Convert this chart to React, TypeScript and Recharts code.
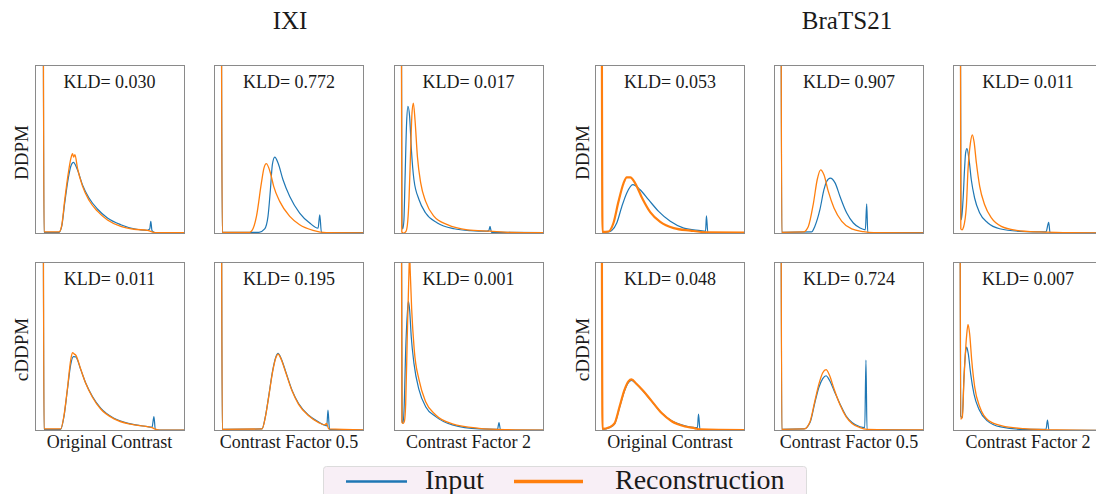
import { LineChart, Line, XAxis, YAxis } from "recharts";

type Pt = [number, number];

const DATASETS = ["IXI", "BraTS21"];
const MODELS = ["DDPM", "cDDPM"];
const CONTRASTS = ["Original Contrast", "Contrast Factor 0.5", "Contrast Factor 2"];
const KLD_IXI = [
  [0.03, 0.772, 0.017],
  [0.011, 0.195, 0.001],
];
const KLD_BRATS = [
  [0.053, 0.907, 0.011],
  [0.048, 0.724, 0.007],
];
const LEGEND = ["Input", "Reconstruction"];

// intensity histograms: [intensity, density] (density scaled to the panel's y range, bin 0 overflows)
const ixiDdpmOrigIn: Pt[] = [[0.055, 1.5], [0.06, 0.01], [0.16, 0.01], [0.178, 0.045], [0.198, 0.183], [0.222, 0.331], [0.24, 0.404], [0.256, 0.424], [0.283, 0.38], [0.316, 0.292], [0.36, 0.213], [0.416, 0.148], [0.483, 0.095], [0.572, 0.055], [0.66, 0.031], [0.75, 0.022], [0.765, 0.03], [0.772, 0.075], [0.78, 0.02], [0.8, 0.008], [1, 0.008]];
const ixiDdpmOrigRec: Pt[] = [[0.055, 1.5], [0.06, 0.012], [0.16, 0.012], [0.178, 0.05], [0.198, 0.2], [0.222, 0.36], [0.24, 0.45], [0.25, 0.475], [0.258, 0.455], [0.266, 0.47], [0.283, 0.39], [0.316, 0.285], [0.36, 0.2], [0.416, 0.135], [0.483, 0.083], [0.572, 0.045], [0.66, 0.028], [0.75, 0.022], [0.78, 0.012], [0.8, 0.008], [1, 0.008]];
const ixiDdpmHalfIn: Pt[] = [[0.049, 1.5], [0.055, 0.01], [0.3, 0.01], [0.338, 0.03], [0.36, 0.104], [0.376, 0.262], [0.389, 0.41], [0.405, 0.455], [0.427, 0.42], [0.46, 0.321], [0.505, 0.222], [0.571, 0.124], [0.638, 0.065], [0.694, 0.035], [0.705, 0.114], [0.716, 0.01], [1, 0.008]];
const ixiDdpmHalfRec: Pt[] = [[0.049, 1.5], [0.055, 0.01], [0.238, 0.01], [0.262, 0.035], [0.283, 0.104], [0.316, 0.302], [0.333, 0.39], [0.349, 0.416], [0.376, 0.361], [0.398, 0.282], [0.438, 0.193], [0.505, 0.104], [0.571, 0.055], [0.66, 0.022], [0.749, 0.008], [1, 0.006]];
const ixiDdpmDoubleIn: Pt[] = [[0.049, 1.5], [0.053, 0.06], [0.058, 0.03], [0.066, 0.08], [0.073, 0.302], [0.084, 0.657], [0.093, 0.755], [0.104, 0.696], [0.116, 0.499], [0.133, 0.321], [0.167, 0.203], [0.211, 0.124], [0.289, 0.065], [0.4, 0.031], [0.511, 0.02], [0.62, 0.017], [0.632, 0.02], [0.64, 0.045], [0.65, 0.01], [1, 0.008]];
const ixiDdpmDoubleRec: Pt[] = [[0.049, 1.5], [0.052, 0.012], [0.065, 0.005], [0.08, 0.015], [0.092, 0.08], [0.1, 0.203], [0.111, 0.499], [0.12, 0.716], [0.129, 0.775], [0.14, 0.676], [0.156, 0.459], [0.178, 0.302], [0.211, 0.193], [0.267, 0.104], [0.356, 0.055], [0.49, 0.025], [0.64, 0.017], [0.78, 0.01], [1, 0.008]];

const bratsDdpmOrigIn: Pt[] = [[0.045, 1.5], [0.05, 0.01], [0.09, 0.012], [0.111, 0.02], [0.145, 0.065], [0.179, 0.163], [0.212, 0.243], [0.252, 0.292], [0.301, 0.262], [0.357, 0.203], [0.424, 0.134], [0.502, 0.075], [0.592, 0.035], [0.703, 0.02], [0.737, 0.016], [0.743, 0.108], [0.752, 0.01], [1, 0.008]];
const bratsDdpmOrigRec: Pt[] = [[0.045, 1.5], [0.05, 0.012], [0.09, 0.015], [0.123, 0.065], [0.156, 0.19], [0.19, 0.3], [0.212, 0.335], [0.235, 0.335], [0.268, 0.3], [0.313, 0.215], [0.368, 0.13], [0.435, 0.072], [0.525, 0.035], [0.636, 0.02], [0.748, 0.01], [1, 0.008]];
const bratsDdpmHalfIn: Pt[] = [[0.047, 1.5], [0.052, 0.01], [0.25, 0.012], [0.272, 0.045], [0.306, 0.144], [0.333, 0.262], [0.351, 0.311], [0.375, 0.331], [0.408, 0.301], [0.44, 0.222], [0.485, 0.124], [0.529, 0.065], [0.574, 0.035], [0.609, 0.025], [0.618, 0.179], [0.625, 0.01], [1, 0.008]];
const bratsDdpmHalfRec: Pt[] = [[0.047, 1.5], [0.052, 0.01], [0.196, 0.012], [0.229, 0.045], [0.263, 0.183], [0.288, 0.321], [0.311, 0.38], [0.333, 0.35], [0.362, 0.252], [0.4, 0.154], [0.452, 0.075], [0.518, 0.03], [0.596, 0.014], [0.663, 0.008], [1, 0.006]];
const bratsDdpmDoubleIn: Pt[] = [[0.049, 1.5], [0.053, 0.1], [0.056, 0.085], [0.067, 0.203], [0.078, 0.4], [0.084, 0.479], [0.093, 0.505], [0.107, 0.44], [0.122, 0.321], [0.144, 0.213], [0.178, 0.124], [0.233, 0.065], [0.311, 0.031], [0.444, 0.016], [0.62, 0.012], [0.638, 0.069], [0.647, 0.007], [1, 0.006]];
const bratsDdpmDoubleRec: Pt[] = [[0.049, 1.5], [0.052, 0.03], [0.06, 0.025], [0.07, 0.04], [0.089, 0.163], [0.1, 0.38], [0.116, 0.538], [0.129, 0.587], [0.14, 0.548], [0.156, 0.42], [0.178, 0.282], [0.211, 0.173], [0.256, 0.095], [0.322, 0.045], [0.422, 0.022], [0.578, 0.012], [0.778, 0.008], [1, 0.006]];

const ixiCddpmOrigIn: Pt[] = [[0.055, 1.5], [0.06, 0.01], [0.171, 0.01], [0.193, 0.085], [0.216, 0.244], [0.238, 0.393], [0.256, 0.44], [0.271, 0.439], [0.305, 0.363], [0.338, 0.284], [0.383, 0.204], [0.438, 0.135], [0.527, 0.075], [0.638, 0.042], [0.749, 0.026], [0.78, 0.022], [0.793, 0.085], [0.802, 0.008], [0.83, 0.005], [1, 0.005]];
const ixiCddpmOrigRec: Pt[] = [[0.055, 1.5], [0.06, 0.012], [0.171, 0.012], [0.193, 0.09], [0.216, 0.25], [0.238, 0.42], [0.25, 0.464], [0.262, 0.455], [0.271, 0.45], [0.305, 0.365], [0.338, 0.282], [0.383, 0.2], [0.438, 0.13], [0.527, 0.072], [0.638, 0.04], [0.749, 0.026], [0.78, 0.02], [0.8, 0.012], [0.83, 0.005], [1, 0.005]];
const ixiCddpmHalfIn: Pt[] = [[0.05, 1.5], [0.055, 0.01], [0.32, 0.012], [0.342, 0.083], [0.364, 0.202], [0.391, 0.357], [0.413, 0.44], [0.427, 0.46], [0.449, 0.426], [0.476, 0.357], [0.52, 0.242], [0.564, 0.163], [0.631, 0.093], [0.698, 0.053], [0.738, 0.034], [0.752, 0.03], [0.76, 0.123], [0.77, 0.01], [1, 0.006]];
const ixiCddpmHalfRec: Pt[] = [[0.05, 1.5], [0.055, 0.01], [0.32, 0.012], [0.342, 0.08], [0.364, 0.198], [0.391, 0.352], [0.413, 0.435], [0.427, 0.455], [0.449, 0.422], [0.476, 0.352], [0.52, 0.238], [0.564, 0.158], [0.631, 0.09], [0.698, 0.05], [0.738, 0.036], [0.75, 0.045], [0.765, 0.012], [1, 0.006]];
const ixiCddpmDoubleIn: Pt[] = [[0.049, 1.5], [0.054, 0.06], [0.06, 0.045], [0.067, 0.124], [0.078, 0.48], [0.089, 0.698], [0.096, 0.767], [0.104, 0.718], [0.115, 0.558], [0.133, 0.4], [0.167, 0.243], [0.211, 0.144], [0.278, 0.085], [0.389, 0.036], [0.567, 0.012], [0.69, 0.01], [0.7, 0.05], [0.71, 0.006], [1, 0.005]];
const ixiCddpmDoubleRec: Pt[] = [[0.049, 1.5], [0.053, 0.05], [0.062, 0.045], [0.07, 0.06], [0.078, 0.163], [0.089, 0.578], [0.1, 0.95], [0.104, 1.05], [0.108, 0.95], [0.118, 0.718], [0.135, 0.48], [0.167, 0.302], [0.211, 0.173], [0.278, 0.095], [0.389, 0.042], [0.567, 0.016], [0.744, 0.008], [1, 0.005]];

const bratsCddpmOrigIn: Pt[] = [[0.045, 1.5], [0.05, 0.01], [0.096, 0.02], [0.13, 0.04], [0.164, 0.14], [0.197, 0.238], [0.224, 0.288], [0.243, 0.3], [0.276, 0.278], [0.321, 0.236], [0.377, 0.177], [0.444, 0.107], [0.511, 0.06], [0.6, 0.03], [0.667, 0.02], [0.683, 0.02], [0.69, 0.1], [0.7, 0.008], [1, 0.006]];
const bratsCddpmOrigRec: Pt[] = [[0.045, 1.5], [0.05, 0.012], [0.096, 0.022], [0.13, 0.045], [0.164, 0.145], [0.197, 0.245], [0.224, 0.295], [0.243, 0.305], [0.276, 0.28], [0.321, 0.238], [0.377, 0.178], [0.444, 0.106], [0.511, 0.058], [0.6, 0.027], [0.667, 0.016], [0.7, 0.01], [1, 0.006]];
const bratsCddpmHalfIn: Pt[] = [[0.047, 1.5], [0.052, 0.01], [0.2, 0.012], [0.24, 0.05], [0.273, 0.17], [0.3, 0.26], [0.325, 0.31], [0.347, 0.327], [0.37, 0.3], [0.4, 0.24], [0.44, 0.16], [0.48, 0.09], [0.52, 0.05], [0.573, 0.025], [0.605, 0.02], [0.613, 0.42], [0.62, 0.01], [1, 0.006]];
const bratsCddpmHalfRec: Pt[] = [[0.047, 1.5], [0.052, 0.01], [0.2, 0.012], [0.24, 0.055], [0.273, 0.18], [0.3, 0.28], [0.325, 0.345], [0.347, 0.363], [0.37, 0.33], [0.4, 0.25], [0.44, 0.155], [0.48, 0.085], [0.52, 0.045], [0.573, 0.02], [0.62, 0.01], [1, 0.006]];
const bratsCddpmDoubleIn: Pt[] = [[0.047, 1.5], [0.051, 0.089], [0.062, 0.08], [0.073, 0.317], [0.085, 0.476], [0.091, 0.496], [0.102, 0.456], [0.118, 0.337], [0.14, 0.218], [0.173, 0.129], [0.229, 0.06], [0.318, 0.024], [0.473, 0.01], [0.62, 0.01], [0.63, 0.064], [0.64, 0.004], [1, 0.004]];
const bratsCddpmDoubleRec: Pt[] = [[0.047, 1.5], [0.051, 0.07], [0.062, 0.08], [0.073, 0.3], [0.09, 0.556], [0.1, 0.631], [0.111, 0.575], [0.125, 0.417], [0.145, 0.258], [0.18, 0.139], [0.24, 0.06], [0.327, 0.03], [0.473, 0.014], [0.693, 0.006], [1, 0.004]];

const BLUE = "#1f77b4";
const ORANGE = "#ff7f0e";
const FONT = '"Liberation Serif", "Times New Roman", serif';
const W = 150;
const H = 169;
const COL_X = [34.5, 214, 393.5, 595, 774, 953];
const ROW_Y = [65, 262];

const HISTS: [Pt[], Pt[]][][] = [
  [
    [ixiDdpmOrigIn, ixiDdpmOrigRec], [ixiDdpmHalfIn, ixiDdpmHalfRec], [ixiDdpmDoubleIn, ixiDdpmDoubleRec],
    [bratsDdpmOrigIn, bratsDdpmOrigRec], [bratsDdpmHalfIn, bratsDdpmHalfRec], [bratsDdpmDoubleIn, bratsDdpmDoubleRec],
  ],
  [
    [ixiCddpmOrigIn, ixiCddpmOrigRec], [ixiCddpmHalfIn, ixiCddpmHalfRec], [ixiCddpmDoubleIn, ixiCddpmDoubleRec],
    [bratsCddpmOrigIn, bratsCddpmOrigRec], [bratsCddpmHalfIn, bratsCddpmHalfRec], [bratsCddpmDoubleIn, bratsCddpmDoubleRec],
  ],
];

const rows = (pts: Pt[]) => pts.map(([x, y]) => ({ x, y }));

function Panel({ left, top, input, recon, thick }: { left: number; top: number; input: Pt[]; recon: Pt[]; thick: boolean }) {
  return (
    <div style={{ position: "absolute", left, top, width: W, height: H }}>
      <LineChart width={W} height={H} margin={{ top: 0, right: 0, bottom: 0, left: 0 }}>
        <XAxis type="number" dataKey="x" domain={[0, 1]} hide allowDataOverflow />
        <YAxis type="number" dataKey="y" domain={[0, 1]} hide allowDataOverflow />
        <Line data={rows(input)} dataKey="y" type="monotone" stroke={BLUE} strokeWidth={1.2} dot={false} isAnimationActive={false} />
        <Line data={rows(recon)} dataKey="y" type="monotone" stroke={ORANGE} strokeWidth={thick ? 2.2 : 1.3} dot={false} isAnimationActive={false} />
      </LineChart>
      <div style={{ position: "absolute", inset: 0, border: "1px solid #8a8a8a" }} />
    </div>
  );
}

export default function App() {
  const kld = [0, 1].map((r) => [...KLD_IXI[r], ...KLD_BRATS[r]]);
  return (
    <div style={{ position: "absolute", left: 0, top: 0, width: 1096, height: 494, overflow: "hidden", background: "#fff" }}>
      {ROW_Y.map((top, r) =>
        COL_X.map((left, c) => (
          <Panel key={`${r}-${c}`} left={left} top={top} input={HISTS[r][c][0]} recon={HISTS[r][c][1]} thick={c === 3} />
        ))
      )}
      <svg width={1096} height={494} style={{ position: "absolute", left: 0, top: 0, fontFamily: FONT }} fill="#1a1a1a">
        {DATASETS.map((d, i) => (
          <text key={d} x={i === 0 ? 290 : 847} y={29} fontSize={25} textAnchor="middle">{d}</text>
        ))}
        {ROW_Y.map((top, r) =>
          COL_X.map((left, c) => (
            <text key={`k${r}-${c}`} x={left + W / 2} y={top + 22.5} fontSize={18} textAnchor="middle">
              KLD= {kld[r][c].toFixed(3)}
            </text>
          ))
        )}
        {ROW_Y.map((top, r) =>
          [0, 3].map((c) => {
            const x = COL_X[c] - 6.5;
            const y = top + H / 2 + 3;
            return (
              <text key={`m${r}-${c}`} x={x} y={y} fontSize={19} textAnchor="middle" transform={`rotate(-90 ${x} ${y})`}>
                {MODELS[r]}
              </text>
            );
          })
        )}
        {COL_X.map((left, c) => (
          <text key={`c${c}`} x={left + W / 2} y={448} fontSize={18} textAnchor="middle">
            {CONTRASTS[c % 3]}
          </text>
        ))}
        <rect x={323.5} y={466.5} width={483} height={40} rx={3} fill="#f8eff6" stroke="#dcdcdc" />
        <line x1={346} x2={407} y1={481.5} y2={481.5} stroke={BLUE} strokeWidth={2.5} />
        <text x={425} y={488.5} fontSize={28}>{LEGEND[0]}</text>
        <line x1={514} x2={583} y1={481.5} y2={481.5} stroke={ORANGE} strokeWidth={3.5} />
        <text x={615} y={488.5} fontSize={28}>{LEGEND[1]}</text>
      </svg>
    </div>
  );
}
